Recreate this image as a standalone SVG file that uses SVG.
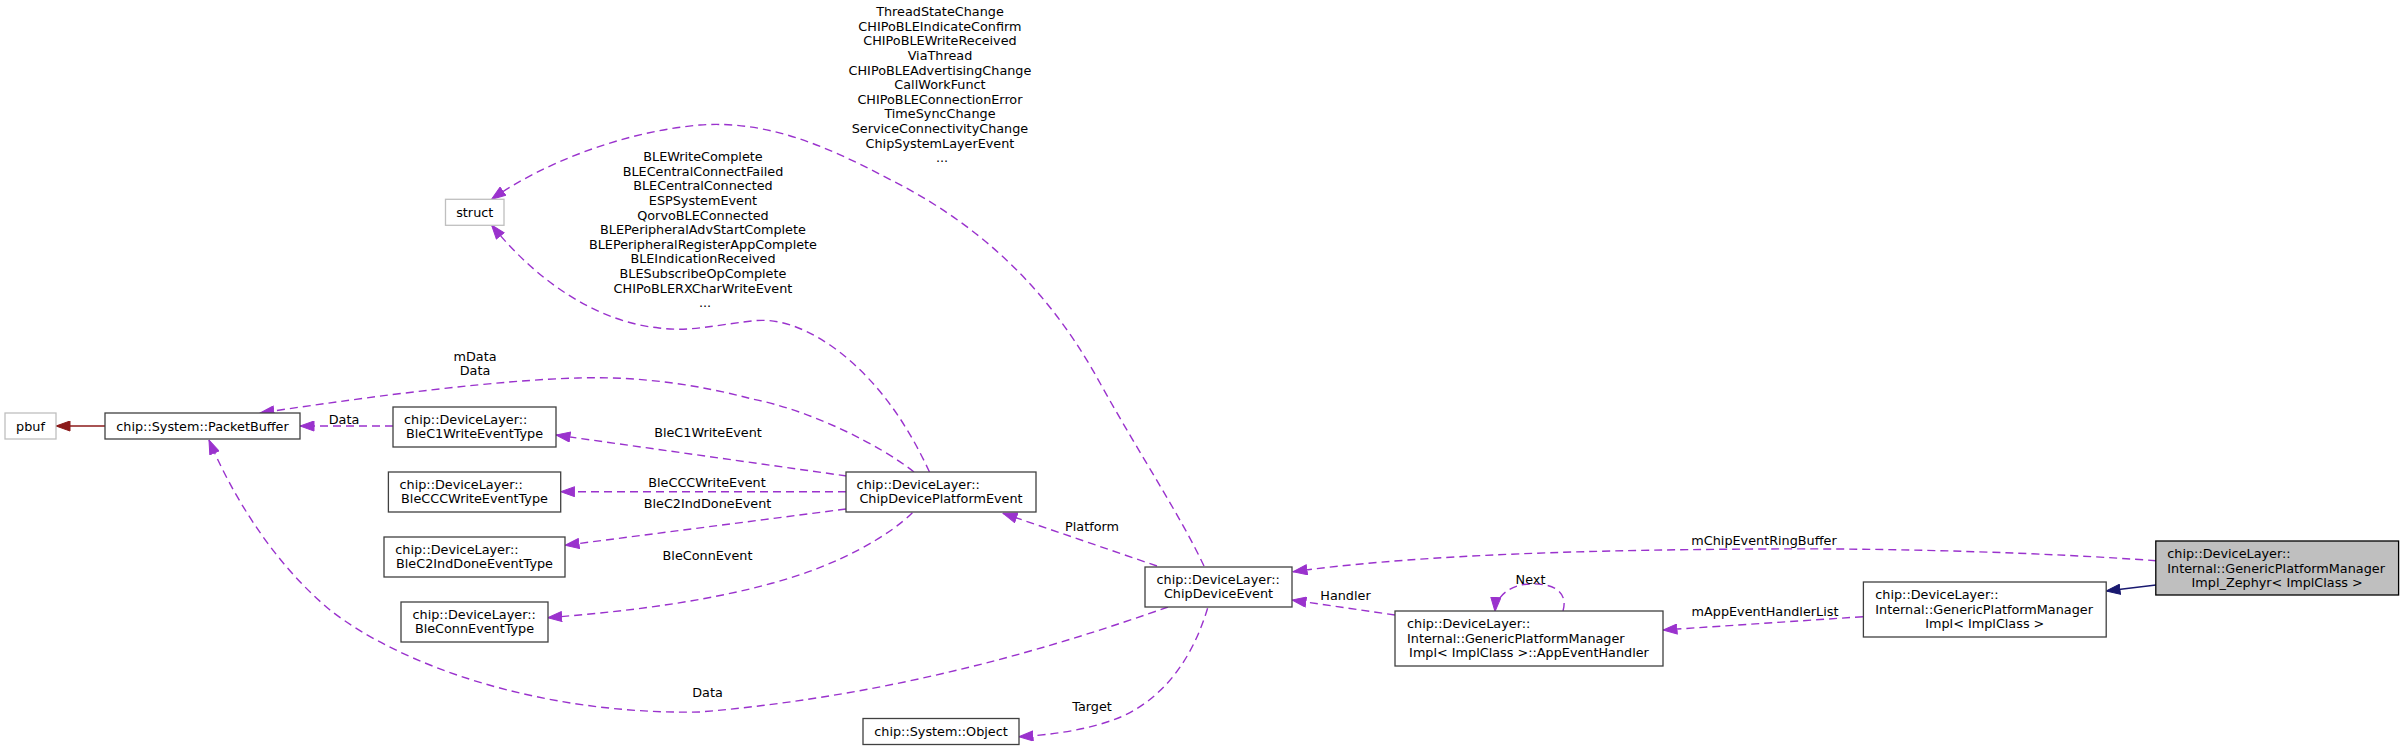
<svg xmlns="http://www.w3.org/2000/svg" width="2404" height="751" viewBox="0 0 2404 751">
<defs>
<style>
text{font-family:"DejaVu Sans","Liberation Sans",sans-serif;font-size:12.8px;fill:#000}
.n rect{fill:#fff;stroke:#404040;stroke-width:1.3}
.u rect{fill:#fff;stroke:#bfbfbf;stroke-width:1.3}
.z rect{fill:#bfbfbf;stroke:#000;stroke-width:1.3}
.m{text-anchor:middle}
.e{fill:none;stroke:#9a32cd;stroke-width:1.4;stroke-dasharray:8,5}
.r{fill:none;stroke:#8b1a1a;stroke-width:1.4}
.b{fill:none;stroke:#191970;stroke-width:1.4}
</style>
<marker id="ap" markerUnits="userSpaceOnUse" markerWidth="15" markerHeight="11" viewBox="0 0 15 11" refX="14.5" refY="5.5" orient="auto"><path d="M0.5,0.5 L14.5,5.5 L0.5,10.5 z" fill="#9a32cd" stroke="#9a32cd"/></marker>
<marker id="ar" markerUnits="userSpaceOnUse" markerWidth="15" markerHeight="11" viewBox="0 0 15 11" refX="14.5" refY="5.5" orient="auto"><path d="M0.5,0.5 L14.5,5.5 L0.5,10.5 z" fill="#8b1a1a" stroke="#8b1a1a"/></marker>
<marker id="ab" markerUnits="userSpaceOnUse" markerWidth="15" markerHeight="11" viewBox="0 0 15 11" refX="14.5" refY="5.5" orient="auto"><path d="M0.5,0.5 L14.5,5.5 L0.5,10.5 z" fill="#191970" stroke="#191970"/></marker>
</defs>
<rect width="2404" height="751" fill="#fff"/>
<g id="edges">
<path class="r" marker-end="url(#ar)" d="M105,426 L56,426"/>
<path class="e" marker-end="url(#ap)" d="M393,426 L300,426"/>
<text class="m" x="344" y="423.5">Data</text>
<path class="e" marker-end="url(#ap)" d="M914,472 C880,445 810,410 752,399 C700,385 640,376 578,378 C500,380 380,395 260,413"/>
<text class="m" x="475" y="360.5">mData</text>
<text class="m" x="475" y="375">Data</text>
<path class="e" marker-end="url(#ap)" d="M1168,607 C1060,645 900,695 700,712 C540,715 400,665 330,610 C270,560 230,490 209,440"/>
<text class="m" x="707.5" y="697">Data</text>
<path class="e" marker-end="url(#ap)" d="M929.5,472 C910,430 880,380 830,345 C800,325 775,318 752,321 C715,325 690,332 659,328 C600,322 540,285 491.5,225"/>
<text class="m" x="705">
<tspan x="705" y="161.2">BLEWriteComplete</tspan>
<tspan x="705" y="175.8">BLECentralConnectFailed</tspan>
<tspan x="705" y="190.4">BLECentralConnected</tspan>
<tspan x="705" y="205">ESPSystemEvent</tspan>
<tspan x="705" y="219.6">QorvoBLEConnected</tspan>
<tspan x="705" y="234.2">BLEPeripheralAdvStartComplete</tspan>
<tspan x="705" y="248.8">BLEPeripheralRegisterAppComplete</tspan>
<tspan x="705" y="263.4">BLEIndicationReceived</tspan>
<tspan x="705" y="278">BLESubscribeOpComplete</tspan>
<tspan x="705" y="292.6">CHIPoBLERXCharWriteEvent</tspan>
<tspan x="705" y="307.2">...</tspan>
</text>
<path class="e" marker-end="url(#ap)" d="M1204,566 C1180,515 1140,455 1100,383 C1060,310 1000,235 891,180 C830,148 770,120 700,125 C620,132 540,165 491.5,199.3"/>
<text class="m" x="942">
<tspan x="942" y="16.2">ThreadStateChange</tspan>
<tspan x="942" y="30.8">CHIPoBLEIndicateConfirm</tspan>
<tspan x="942" y="45.4">CHIPoBLEWriteReceived</tspan>
<tspan x="942" y="60">ViaThread</tspan>
<tspan x="942" y="74.6">CHIPoBLEAdvertisingChange</tspan>
<tspan x="942" y="89.2">CallWorkFunct</tspan>
<tspan x="942" y="103.8">CHIPoBLEConnectionError</tspan>
<tspan x="942" y="118.4">TimeSyncChange</tspan>
<tspan x="942" y="133">ServiceConnectivityChange</tspan>
<tspan x="942" y="147.6">ChipSystemLayerEvent</tspan>
<tspan x="942" y="162.2">...</tspan>
</text>
<path class="e" marker-end="url(#ap)" d="M846.7,476 L556,435"/>
<text class="m" x="708" y="437">BleC1WriteEvent</text>
<path class="e" marker-end="url(#ap)" d="M846,491.7 L560.7,491.7"/>
<text class="m" x="707" y="487">BleCCCWriteEvent</text>
<path class="e" marker-end="url(#ap)" d="M846,509 L565,545.3"/>
<text class="m" x="707.5" y="508">BleC2IndDoneEvent</text>
<path class="e" marker-end="url(#ap)" d="M912.4,512.7 C890,535 840,565 771.8,583.3 C700,603 620,612 547.7,617.7"/>
<text class="m" x="707.5" y="560">BleConnEvent</text>
<path class="e" marker-end="url(#ap)" d="M1157,566 L1003,513.3"/>
<text class="m" x="1092" y="531">Platform</text>
<path class="e" marker-end="url(#ap)" d="M1207.6,608.3 C1195,650 1170,695 1121.4,716.7 C1090,730 1050,735 1019,736.7"/>
<text class="m" x="1092" y="711">Target</text>
<path class="e" marker-end="url(#ap)" d="M1395,615 L1292,600"/>
<text class="m" x="1345.5" y="600">Handler</text>
<path class="e" marker-end="url(#ap)" d="M1563,611 C1569,590 1550,583 1531,584 C1512,584 1496,595 1495,611.5"/>
<text class="m" x="1530.5" y="583.5">Next</text>
<path class="e" marker-end="url(#ap)" d="M1863,616.7 L1663,630"/>
<text class="m" x="1765" y="616">mAppEventHandlerList</text>
<path class="b" marker-end="url(#ab)" d="M2156,585 L2106,591"/>
<path class="e" marker-end="url(#ap)" d="M2156,560.7 C2050,553 1900,548 1765,549 C1550,550 1400,557 1293,571.7"/>
<text class="m" x="1764" y="544.5">mChipEventRingBuffer</text>
</g>
<g id="pbuf" class="u"><rect x="5" y="413" width="51" height="26"/><text class="m" x="30.5" y="430.5">pbuf</text></g>
<g id="packetbuffer" class="n"><rect x="105" y="413" width="195" height="26"/><text class="m" x="202.5" y="430.5">chip::System::PacketBuffer</text></g>
<g id="struct" class="u"><rect x="445.5" y="199.3" width="58.5" height="26"/><text class="m" x="474.75" y="216.8">struct</text></g>
<g id="blec1" class="n"><rect x="393" y="407" width="163" height="40"/><text x="404" y="423.5">chip::DeviceLayer::</text><text class="m" x="474.5" y="438">BleC1WriteEventType</text></g>
<g id="bleccc" class="n"><rect x="388.4" y="472" width="172.3" height="40"/><text x="399.5" y="488.5">chip::DeviceLayer::</text><text class="m" x="474.5" y="503">BleCCCWriteEventType</text></g>
<g id="blec2" class="n"><rect x="384" y="537" width="181" height="40"/><text x="395.3" y="553.5">chip::DeviceLayer::</text><text class="m" x="474.5" y="568">BleC2IndDoneEventType</text></g>
<g id="bleconn" class="n"><rect x="401" y="602" width="147" height="40"/><text x="412.5" y="618.5">chip::DeviceLayer::</text><text class="m" x="474.5" y="633">BleConnEventType</text></g>
<g id="platformevent" class="n"><rect x="846" y="472" width="190" height="40"/><text x="856.6" y="488.5">chip::DeviceLayer::</text><text class="m" x="941" y="503">ChipDevicePlatformEvent</text></g>
<g id="deviceevent" class="n"><rect x="1145" y="567" width="147" height="40"/><text x="1156.5" y="583.5">chip::DeviceLayer::</text><text class="m" x="1218.5" y="598">ChipDeviceEvent</text></g>
<g id="object" class="n"><rect x="863" y="718.5" width="156" height="26"/><text class="m" x="941" y="736">chip::System::Object</text></g>
<g id="apphandler" class="n"><rect x="1395" y="611" width="268" height="55"/><text x="1407" y="628">chip::DeviceLayer::</text><text x="1407" y="642.5">Internal::GenericPlatformManager</text><text class="m" x="1529" y="657">Impl&lt; ImplClass &gt;::AppEventHandler</text></g>
<g id="gpmimpl" class="n"><rect x="1863.4" y="582" width="242.8" height="55"/><text x="1875.3" y="599">chip::DeviceLayer::</text><text x="1875.3" y="613.5">Internal::GenericPlatformManager</text><text class="m" x="1984.8" y="628">Impl&lt; ImplClass &gt;</text></g>
<g id="zephyr" class="z"><rect x="2155.8" y="541" width="242.8" height="54"/><text x="2167.3" y="558">chip::DeviceLayer::</text><text x="2167.3" y="572.5">Internal::GenericPlatformManager</text><text class="m" x="2277.2" y="587">Impl_Zephyr&lt; ImplClass &gt;</text></g>
</svg>
